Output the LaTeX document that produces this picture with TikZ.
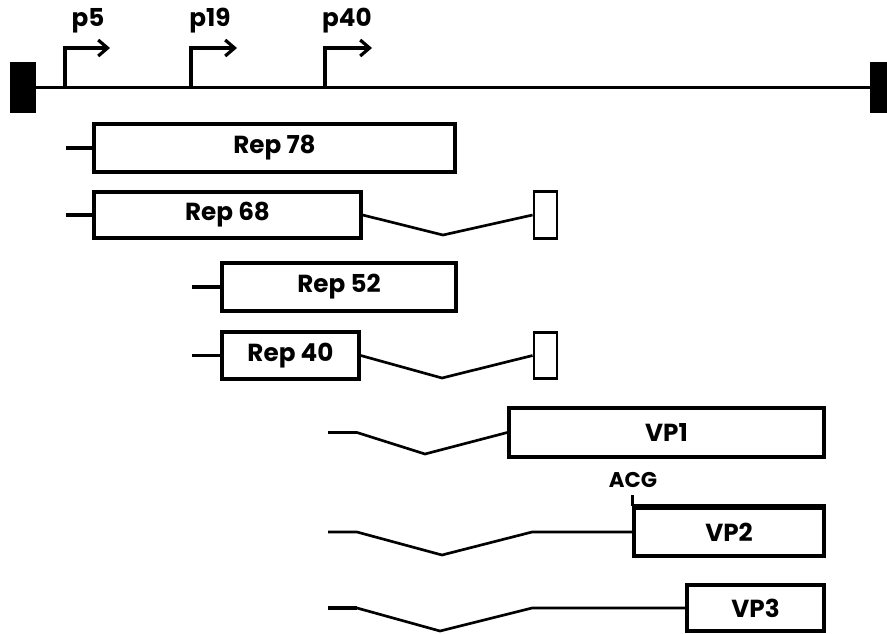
\documentclass[tikz,border=0pt]{standalone}
\usepackage{fontspec}
\setmainfont{Poppins}
\usepackage{tikz}
\usetikzlibrary{arrows.meta,positioning}

\begin{document}
\begin{tikzpicture}[
    x=0.75pt, y=-0.75pt,
    orf/.style={rectangle, draw, line width=2.6pt, inner sep=0pt, minimum height=36pt, font=\fontsize{18.5}{22}\selectfont\bfseries},
    exon/.style={rectangle, draw, line width=2.2pt, inner sep=0pt, minimum width=17.25pt, minimum height=35pt},
    itr/.style={rectangle, fill=black, inner sep=0pt, minimum width=19.5pt, minimum height=38.25pt},
    lbl/.style={font=\fontsize{18.5}{22}\selectfont\bfseries, inner sep=0pt},
    genome/.style={line width=2.6pt},
    stub/.style={line width=2.8pt},
    splice/.style={line width=2pt},
    prom/.style={line width=2.4pt, -{Straight Barb[length=7pt, width=12pt, line width=2.4pt]}}
]
\useasboundingbox (0,0) rectangle (887,633);

% Genome with ITRs
\node[itr] (itrL) at (23,87.5) {};
\node[itr, minimum width=12.75pt] (itrR) at (878.5,87.5) {};
\draw[genome] (itrL.east) -- (itrR.west);

% Promoters
\coordinate (p5) at (65,87);
\coordinate (p19) at (191,87);
\coordinate (p40) at (325,87);
\draw[prom] (p5) -- ++(0,-39) -- ++(45,0);
\draw[prom] (p19) -- ++(0,-39) -- ++(46,0);
\draw[prom] (p40) -- ++(0,-39) -- ++(47,0);
\node[lbl] (l5) at (88,21) {p5};
\node[lbl] (l19) at (210,21) {p19};
\node[lbl] (l40) at (347,21) {p40};

% Rep proteins
\node[orf, minimum width=270.75pt] (rep78) at (274.5,148) {Rep 78};
\node[orf, minimum width=200.25pt, minimum height=34.5pt] (rep68) at (227.5,215) {Rep 68};
\node[exon] (ex68) at (545.5,215) {};
\node[orf, minimum width=175.5pt] (rep52) at (339,287) {Rep 52};
\node[orf, minimum width=102.75pt, minimum height=35.25pt] (rep40) at (290.5,355.5) {Rep 40};
\node[exon] (ex40) at (545.5,355.5) {};

\coordinate (s78) at (66,148);
\coordinate (s68) at (66,215);
\coordinate (s52) at (192,287);
\coordinate (s40) at (192,355.5);
\draw[stub] (s78) -- (rep78.west);
\draw[stub] (s68) -- (rep68.west);
\draw[stub] (s52) -- (rep52.west);
\draw[stub] (s40) -- (rep40.west);

\draw[splice] (rep68.east) -- (443,235) -- (ex68.west);
\draw[splice] (rep40.east) -- (442,378) -- (ex40.west);

% Capsid proteins
\node[orf, minimum width=236.25pt, minimum height=36.75pt] (vp1) at (666.5,432.5) {VP1};
\node[orf, minimum width=142.5pt] (vp2) at (729,532) {VP2};
\node[orf, minimum width=102.75pt, minimum height=34.5pt] (vp3) at (755.5,608) {VP3};

\coordinate (t1) at (328,432.5);
\coordinate (t2) at (328,532);
\coordinate (t3) at (328,608);
\draw[splice] (t1) -- (357,432.5) -- (425,454) -- (vp1.west);
\draw[splice] (t2) -- (357,532) -- (442,555) -- (532,532) -- (vp2.west);
\draw[splice] (t3) -- (357,608) -- (440,631) -- (532,608) -- (vp3.west);
\draw[stub] (t3) -- (357,608);

% ACG start
\node[lbl, font=\fontsize{16}{19}\selectfont\bfseries] (acg) at (633,480) {ACG};
\coordinate (tick) at (vp2.north west |- 0,495);
\draw[splice] (tick) -- (vp2.north west);
\draw[line width=3.6pt] (vp2.north west) -- (vp2.north east);

\end{tikzpicture}
\end{document}
